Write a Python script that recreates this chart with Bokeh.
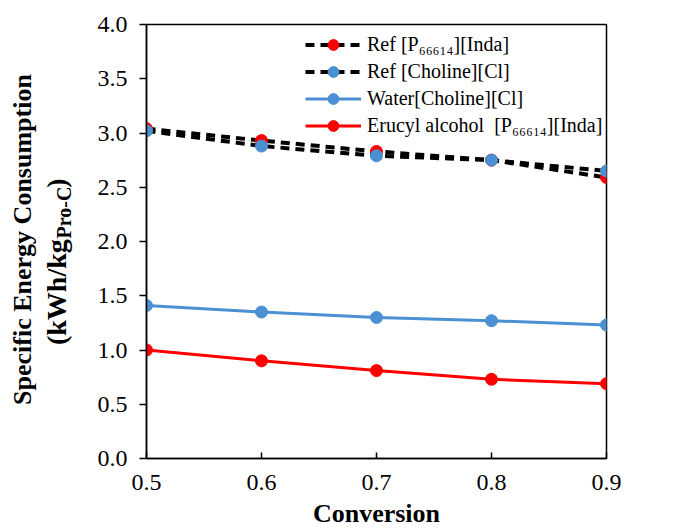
import math
from bokeh.plotting import figure
from bokeh.layouts import row
from bokeh.models import Legend, LegendItem, FixedTicker, Range1d, PrintfTickFormatter
from bokeh.core.properties import value
from bokeh.embed import file_html
from bokeh.resources import INLINE

conversion = [0.5, 0.6, 0.7, 0.8, 0.9]
ref_p66614 = [3.04, 2.93, 2.83, 2.75, 2.59]
ref_choline = [3.02, 2.88, 2.79, 2.75, 2.65]
water_choline = [1.41, 1.35, 1.30, 1.27, 1.23]
erucyl_p66614 = [1.00, 0.90, 0.81, 0.73, 0.69]

x_ticks = [0.5, 0.6, 0.7, 0.8, 0.9]
y_ticks = [0.0, 0.5, 1.0, 1.5, 2.0, 2.5, 3.0, 3.5, 4.0]

labels = [
    "Ref [P\u2086\u2086\u2086\u2081\u2084][Inda]",
    "Ref [Choline][Cl]",
    "Water[Choline][Cl]",
    "Erucyl alcohol  [P\u2086\u2086\u2086\u2081\u2084][Inda]",
]
ylabel_line1 = "Specific Energy Consumption"
ylabel_line2 = "(kWh/kg"
ylabel_sub = "Pro-C"
ylabel_close = ")"

RED = "#FF0000"
BLUE = "#4A90D2"
FONT = "Liberation Serif"

LEFT_W = 86
H = 530
TOP = 24
BOTTOM = 70

# ---- left panel carrying the rotated y-axis title (screen-pixel coordinates, y from top) ----
pl = figure(width=LEFT_W, height=H, output_backend="svg", toolbar_location=None,
            x_range=Range1d(0, LEFT_W), y_range=Range1d(BOTTOM, H - TOP),
            min_border_left=0, min_border_right=0,
            min_border_top=TOP, min_border_bottom=BOTTOM)
pl.axis.visible = False
pl.grid.visible = False
pl.outline_line_color = None
pl.background_fill_color = "white"
pl.border_fill_color = "white"

txt_kw = dict(angle=math.pi / 2, text_font=value(FONT), text_font_style="bold",
              text_color="black", text_baseline="alphabetic")
pl.text(x=[22], y=[H - 240], text=[ylabel_line1], text_align="center",
        text_font_size="26px", **txt_kw)
pl.text(x=[56], y=[H - 346], text=[ylabel_line2], text_align="left",
        text_font_size="28px", **txt_kw)
pl.text(x=[63], y=[H - 239], text=[ylabel_sub], text_align="left",
        text_font_size="20px", **txt_kw)
pl.text(x=[56], y=[H - 188], text=[ylabel_close], text_align="left",
        text_font_size="28px", **txt_kw)

# ---- main plot ----
p = figure(width=674 - LEFT_W, height=H, output_backend="svg", toolbar_location=None,
           x_range=Range1d(0.5, 0.9), y_range=Range1d(0.0, 4.0),
           min_border_left=146 - LEFT_W, min_border_right=68, min_border_top=TOP,
           min_border_bottom=BOTTOM)
p.background_fill_color = "white"
p.border_fill_color = "white"
p.outline_line_color = "black"
p.outline_line_width = 1.5
p.xgrid.visible = False
p.ygrid.visible = False

r1l = p.line(conversion, ref_p66614, line_color="black", line_width=4, line_dash="9 6")
r1m = p.scatter(conversion, ref_p66614, size=12, fill_color=RED, line_color=RED)
r2l = p.line(conversion, ref_choline, line_color="black", line_width=4, line_dash="9 6")
r2m = p.scatter(conversion, ref_choline, size=12, fill_color=BLUE, line_color=BLUE)
r3l = p.line(conversion, water_choline, line_color=BLUE, line_width=3)
r3m = p.scatter(conversion, water_choline, size=12, fill_color=BLUE, line_color=BLUE)
r4l = p.line(conversion, erucyl_p66614, line_color=RED, line_width=3)
r4m = p.scatter(conversion, erucyl_p66614, size=12, fill_color=RED, line_color=RED)

legend = Legend(items=[
    LegendItem(label=labels[0], renderers=[r1l, r1m]),
    LegendItem(label=labels[1], renderers=[r2l, r2m]),
    LegendItem(label=labels[2], renderers=[r3l, r3m]),
    LegendItem(label=labels[3], renderers=[r4l, r4m]),
], location=(159, 319))
legend.border_line_color = None
legend.background_fill_alpha = 0
legend.label_text_font = FONT
legend.label_text_font_size = "20px"
legend.label_text_color = "black"
legend.glyph_width = 56
legend.glyph_height = 27
legend.label_height = 27
legend.spacing = 0
legend.label_standoff = 6
legend.padding = 4
legend.margin = 0
p.add_layout(legend)

p.xaxis.ticker = FixedTicker(ticks=x_ticks)
p.yaxis.ticker = FixedTicker(ticks=y_ticks)
p.xaxis.formatter = PrintfTickFormatter(format="%.1f")
p.yaxis.formatter = PrintfTickFormatter(format="%.1f")

p.axis.axis_line_color = "black"
p.axis.axis_line_width = 1.5
p.axis.major_tick_line_color = "black"
p.axis.major_tick_line_width = 1.5
p.axis.minor_tick_line_color = None
p.axis.major_label_text_font = FONT
p.axis.major_label_text_font_size = "24px"
p.axis.major_label_text_color = "black"

p.xaxis.major_tick_in = 6
p.xaxis.major_tick_out = 0
p.xaxis.major_label_standoff = 16
p.yaxis.major_tick_in = 0
p.yaxis.major_tick_out = 7
p.yaxis.major_label_standoff = 12
p.xaxis.axis_label = "Conversion"
p.xaxis.axis_label_text_font = FONT
p.xaxis.axis_label_text_font_style = "bold"
p.xaxis.axis_label_text_font_size = "26px"
p.xaxis.axis_label_text_color = "black"
p.xaxis.axis_label_standoff = 6

layout = row(pl, p, spacing=0)
open("out.html", "w").write(file_html(layout, INLINE))
